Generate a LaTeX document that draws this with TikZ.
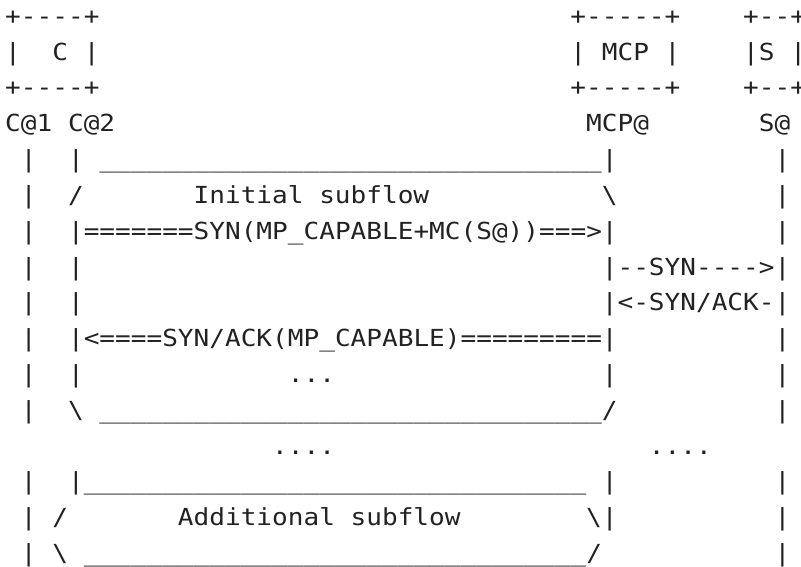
\documentclass[tikz,border=0pt]{standalone}
\usepackage{fontspec}
\newfontfamily\asc{DejaVu Sans Mono}[Ligatures=TeXOff,FakeStretch=1.11]
\definecolor{ink}{HTML}{222222}
\tikzset{ascii/.style={anchor=base west,inner sep=0pt,outer sep=0pt,font=\asc\fontsize{23.5}{23.5}\selectfont,text=ink}}
\newcommand\seg[4]{\node[ascii] (#1) at ({5.25+15.7*#3},{-(24.4+35.8*#2)}) {#4};}
\newcommand\us{\_\_\_\_\_\_\_\_}
\newcommand\bs{\textbackslash}
\begin{document}
\begin{tikzpicture}[x=1pt,y=1pt]
\fill[white] (0,0) rectangle (801,-567);
\useasboundingbox (0,0) rectangle (801,-567);
% boxes
\seg{a0}{0}{0}{+----+}
\seg{a1}{0}{36}{+-----+}
\seg{a2}{0}{47}{+--+}
\seg{b0}{1}{0}{|}
\seg{b1}{1}{3}{C}
\seg{b2}{1}{5}{|}
\seg{b3}{1}{36}{|}
\seg{b4}{1}{38}{MCP}
\seg{b5}{1}{42}{|}
\seg{b6}{1}{47}{|S}
\seg{b7}{1}{50}{|}
\seg{c0}{2}{0}{+----+}
\seg{c1}{2}{36}{+-----+}
\seg{c2}{2}{47}{+--+}
\seg{d0}{3}{0}{C@1}
\seg{d1}{3}{4}{C@2}
\seg{d2}{3}{37}{MCP@}
\seg{d3}{3}{48}{S@}
% initial subflow
\seg{e0}{4}{1}{|}
\seg{e1}{4}{4}{|}
\seg{e2}{4}{6}{\us\us\us\us|}
\seg{e3}{4}{49}{|}
\seg{f0}{5}{1}{|}
\seg{f1}{5}{4}{/}
\seg{f2}{5}{12}{Initial}
\seg{f3}{5}{20}{subflow}
\seg{f4}{5}{38}{\bs}
\seg{f5}{5}{49}{|}
\seg{g0}{6}{1}{|}
\seg{g1}{6}{4}{|=======SYN(MP\_CAPABLE+MC(S@))===>|}
\seg{g2}{6}{49}{|}
\seg{h0}{7}{1}{|}
\seg{h1}{7}{4}{|}
\seg{h2}{7}{38}{|--SYN---->|}
\seg{i0}{8}{1}{|}
\seg{i1}{8}{4}{|}
\seg{i2}{8}{38}{|<-SYN/ACK-|}
\seg{j0}{9}{1}{|}
\seg{j1}{9}{4}{|<====SYN/ACK(MP\_CAPABLE)=========|}
\seg{j2}{9}{49}{|}
\seg{k0}{10}{1}{|}
\seg{k1}{10}{4}{|}
\seg{k2}{10}{18}{...}
\seg{k3}{10}{38}{|}
\seg{k4}{10}{49}{|}
\seg{l0}{11}{1}{|}
\seg{l1}{11}{4}{\bs}
\seg{l2}{11}{6}{\us\us\us\us/}
\seg{l3}{11}{49}{|}
\seg{m0}{12}{17}{....}
\seg{m1}{12}{41}{....}
% additional subflow
\seg{n0}{13}{1}{|}
\seg{n1}{13}{4}{|\us\us\us\us}
\seg{n2}{13}{38}{|}
\seg{n3}{13}{49}{|}
\seg{o0}{14}{1}{|}
\seg{o1}{14}{3}{/}
\seg{o2}{14}{11}{Additional}
\seg{o3}{14}{22}{subflow}
\seg{o4}{14}{37}{\bs|}
\seg{o5}{14}{49}{|}
\seg{p0}{15}{1}{|}
\seg{p1}{15}{3}{\bs}
\seg{p2}{15}{5}{\us\us\us\us/}
\seg{p3}{15}{49}{|}
\end{tikzpicture}
\end{document}
